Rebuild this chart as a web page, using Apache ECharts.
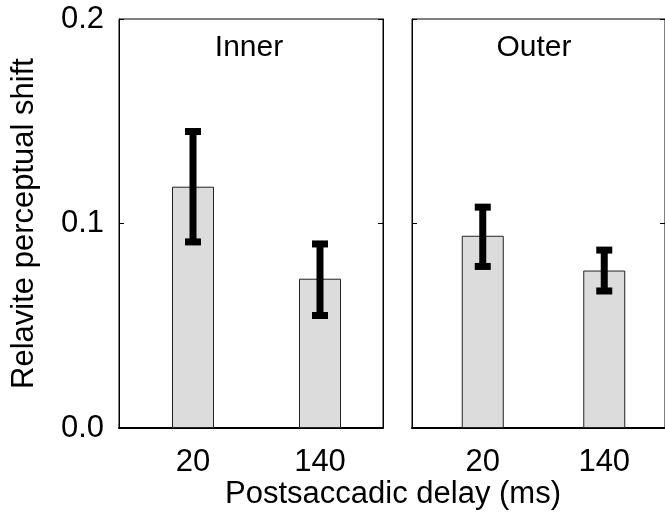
<!DOCTYPE html>
<html>
<head>
<meta charset="utf-8">
<script src="https://cdn.jsdelivr.net/npm/echarts@6/dist/echarts.min.js"></script>
<style>
  html, body { margin: 0; padding: 0; background: #fff; }
  #chart { width: 665px; height: 514px; }
</style>
</head>
<body>
<div id="chart"></div>
<script>
// categories (postsaccadic delay, ms)
var categories = ["20", "140"];
var yTicks = [0, 0.1, 0.2];

// Inner panel
var innerMean = [0.118, 0.073];
var innerLow = [0.091, 0.055];
var innerHigh = [0.145, 0.090];

// Outer panel
var outerMean = [0.094, 0.077];
var outerLow = [0.079, 0.067];
var outerHigh = [0.108, 0.087];

var FONT = "Liberation Sans";

function errorData(low, high) {
  return categories.map(function (c, i) {
    return [i, low[i], high[i]];
  });
}

// error bar: thick stem + thick caps
function renderError(params, api) {
  var lo = api.coord([api.value(0), api.value(1)]);
  var hi = api.coord([api.value(0), api.value(2)]);
  var x = lo[0];
  var stemW = 7, capW = 16, capH = 7;
  var style = { fill: "#000" };
  return {
    type: "group",
    children: [
      { type: "rect", shape: { x: x - stemW / 2, y: hi[1], width: stemW, height: lo[1] - hi[1] }, style: style },
      { type: "rect", shape: { x: x - capW / 2, y: hi[1] - capH / 2, width: capW, height: capH }, style: style },
      { type: "rect", shape: { x: x - capW / 2, y: lo[1] - capH / 2, width: capW, height: capH }, style: style }
    ]
  };
}

var chart = echarts.init(document.getElementById("chart"));

var frameY = function (gridIndex, pos, showLabel, name) {
  return {
    type: "value",
    gridIndex: gridIndex,
    position: pos,
    min: yTicks[0],
    max: yTicks[yTicks.length - 1],
    interval: 0.1,
    name: name || "",
    nameLocation: "middle",
    nameGap: 79,
    nameTextStyle: { color: "#000", fontSize: 31, fontFamily: FONT },
    axisLine: { show: true, lineStyle: { color: "#000", width: 1 } },
    axisTick: { show: true, inside: true, length: 5, lineStyle: { color: "#000" } },
    axisLabel: {
      show: showLabel,
      margin: 15,
      color: "#000",
      fontSize: 31,
      fontFamily: FONT,
      formatter: function (v) { return v.toFixed(1); }
    },
    splitLine: { show: false }
  };
};

var frameX = function (gridIndex) {
  return {
    type: "value",
    gridIndex: gridIndex,
    min: 0,
    max: 1,
    axisLine: { show: true, lineStyle: { color: "#000", width: 2 } },
    axisTick: { show: false },
    axisLabel: { show: false },
    splitLine: { show: false }
  };
};

var dataX = function (gridIndex) {
  return {
    type: "category",
    gridIndex: gridIndex,
    data: categories,
    axisLine: { show: false },
    axisTick: { show: false },
    axisLabel: { color: "#000", fontSize: 31, fontFamily: FONT, margin: 19 }
  };
};

var dataY = function (gridIndex) {
  return {
    type: "value",
    gridIndex: gridIndex,
    min: 0,
    max: 0.2,
    show: false
  };
};

chart.setOption({
  animation: false,
  backgroundColor: "#fff",
  title: [
    { text: "Inner", left: 244, top: 28, textAlign: "center",
      textStyle: { fontSize: 30, fontWeight: "normal", color: "#000", fontFamily: FONT } },
    { text: "Outer", left: 529, top: 28, textAlign: "center",
      textStyle: { fontSize: 30, fontWeight: "normal", color: "#000", fontFamily: FONT } },
    { text: "Postsaccadic delay (ms)", left: 388, top: 474, textAlign: "center",
      textStyle: { fontSize: 31, fontWeight: "normal", color: "#000", fontFamily: FONT } }
  ],
  grid: [
    // frames
    { left: 119, top: 19, width: 264, height: 409, show: true, borderColor: "#000", borderWidth: 1 },
    { left: 412, top: 19, width: 253, height: 409, show: true, borderColor: "#000", borderWidth: 1 },
    // data areas
    { left: 129.5, top: 19, width: 254, height: 409 },
    { left: 422, top: 19, width: 246, height: 409 }
  ],
  xAxis: [frameX(0), frameX(1), dataX(2), dataX(3)],
  yAxis: [
    frameY(0, "left", true, "Relavite perceptual shift"),
    frameY(0, "right", false),
    frameY(1, "left", false),
    frameY(1, "right", false),
    dataY(2),
    dataY(3)
  ],
  series: [
    {
      name: "Inner", type: "bar", xAxisIndex: 2, yAxisIndex: 4,
      barWidth: 42, data: innerMean,
      itemStyle: { color: "#dcdcdc", borderColor: "#222", borderWidth: 1 }
    },
    {
      name: "Outer", type: "bar", xAxisIndex: 3, yAxisIndex: 5,
      barWidth: 42, data: outerMean,
      itemStyle: { color: "#dcdcdc", borderColor: "#222", borderWidth: 1 }
    },
    {
      type: "custom", xAxisIndex: 2, yAxisIndex: 4, z: 5,
      renderItem: renderError, data: errorData(innerLow, innerHigh)
    },
    {
      type: "custom", xAxisIndex: 3, yAxisIndex: 5, z: 5,
      renderItem: renderError, data: errorData(outerLow, outerHigh)
    }
  ]
});
</script>
</body>
</html>
